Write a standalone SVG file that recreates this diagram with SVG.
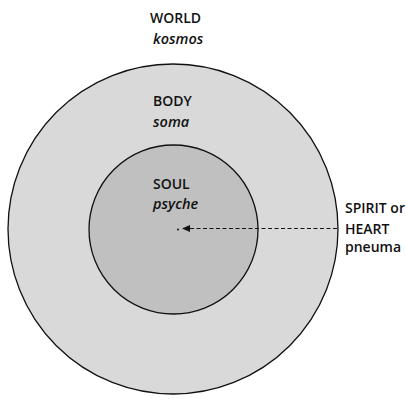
<svg xmlns="http://www.w3.org/2000/svg" width="406" height="399" viewBox="0 0 406 399">
<style>
.t{font-family:"Open Sans","Liberation Sans",sans-serif;font-size:14px;fill:#111;font-weight:600}
.i{font-style:italic;font-size:14.5px;font-weight:600}
.c{stroke:#111;stroke-width:1.3}
</style>
<defs>
<marker id="ah" markerWidth="8" markerHeight="7" refX="8" refY="3.5" orient="auto" markerUnits="userSpaceOnUse">
<path d="M0,0 L8,3.5 L0,7 Z" fill="#111"/>
</marker>
</defs>
<rect width="406" height="399" fill="#fff"/>
<g id="world">
<circle class="c" cx="173" cy="229" r="165" fill="#d9d9d9"/>
<text class="t" x="150" y="23">WORLD</text>
<text class="t i" x="153" y="44">kosmos</text>
</g>
<g id="body">
<text class="t" x="153" y="106">BODY</text>
<text class="t i" x="153" y="127">soma</text>
</g>
<g id="soul">
<circle class="c" cx="173.5" cy="229.5" r="84.5" fill="#c0c0c0"/>
<text class="t" x="153" y="189">SOUL</text>
<text class="t i" x="153" y="209">psyche</text>
<circle cx="178" cy="229.5" r="1" fill="#111"/>
</g>
<g id="spirit">
<text class="t" x="345" y="213">SPIRIT or</text>
<text class="t" x="345" y="234">HEART</text>
<text class="t" x="345" y="252">pneuma</text>
</g>
<g id="connectors">
<line x1="337" y1="228.5" x2="182" y2="228.5" stroke="#111" stroke-width="1.2" stroke-dasharray="4,2.5" marker-end="url(#ah)"/>
</g>
</svg>
